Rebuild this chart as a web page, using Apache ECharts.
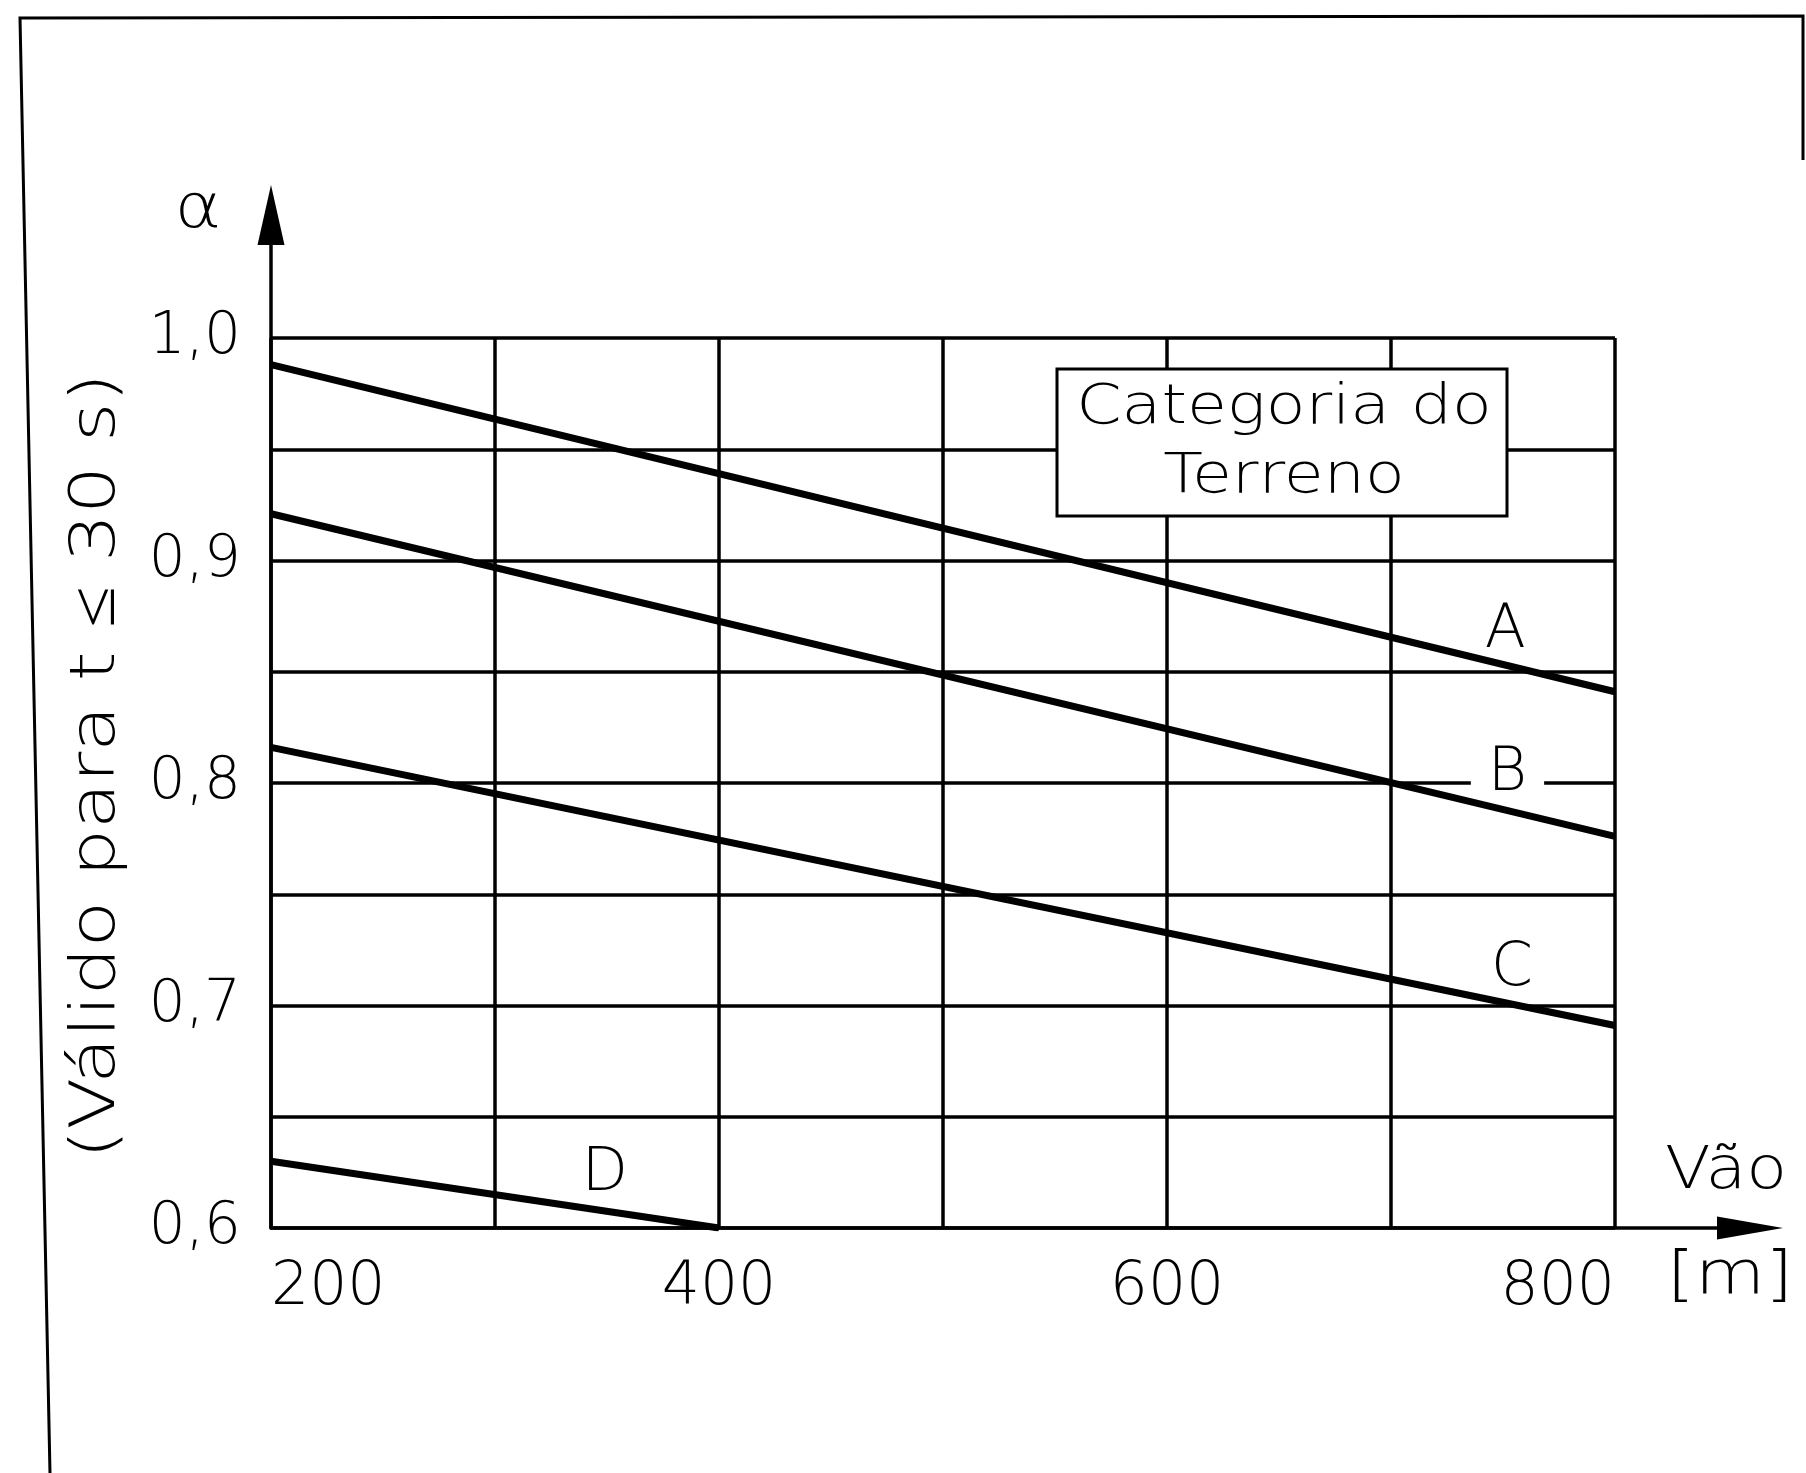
<!DOCTYPE html>
<html><head><meta charset="utf-8">
<script src="https://cdn.jsdelivr.net/npm/echarts@6/dist/echarts.min.js"></script>
<style>html,body{margin:0;padding:0;background:#fff}#c{width:1806px;height:1473px}</style>
</head><body><div id="c"></div>
<script>
// ---- data ----
const spanRange = [200, 800];
const alphaRange = [0.6, 1.0];
const xTickLabels = [200, 400, 600, 800];
const yTickLabels = ['0,6', '0,7', '0,8', '0,9', '1,0'];
const curveNames = ['A', 'B', 'C', 'D'];
const curveA = [[200, 0.988], [800, 0.841]];
const curveB = [[200, 0.921], [800, 0.776]];
const curveC = [[200, 0.816], [800, 0.691]];
const curveD = [[200, 0.630], [400, 0.600]];
const labelX = [751, 752, 754, 349];
const labelY = [0.868, 0.804, 0.716, 0.624];
const boxTitle = 'Categoria do\nTerreno';
const yName = '(Válido para t ≤ 30 s)';
const xName = 'Vão';
const xUnit = '[m]';
const yAxisSymbol = 'α';

const FONT = 'DejaVu Sans';
const FW = 200;
const chart = echarts.init(document.getElementById('c'), null, {renderer: 'canvas'});

const gridLine = {show: true, lineStyle: {color: '#000', width: 3.5, opacity: 1}};
const curves = [curveA, curveB, curveC, curveD];
const centered = {align: 'center', verticalAlign: 'middle', textAlign: 'center', textVerticalAlign: 'middle',
  fontFamily: FONT, fontWeight: FW, fill: '#000'};

const option = {
  backgroundColor: '#fff',
  animation: false,
  grid: [
    {left: 271, right: 191, top: 338, bottom: 245, outerBoundsMode: 'none'},
    {left: 271, right: 56, top: 215, bottom: 245, outerBoundsMode: 'none'}
  ],
  xAxis: [
    {
      type: 'value', gridIndex: 0, min: spanRange[0], max: spanRange[1], interval: 100,
      axisLine: {show: false}, axisTick: {show: false}, splitLine: gridLine,
      axisLabel: {
        formatter: v => xTickLabels.includes(v) ? String(v) : '',
        fontSize: 60, fontFamily: FONT, fontWeight: FW, color: '#000', margin: 30,
        alignMinLabel: 'left', alignMaxLabel: 'right', showMinLabel: true, showMaxLabel: true
      }
    },
    {
      type: 'value', gridIndex: 1, min: 0, max: 1,
      axisLine: {show: true, onZero: false, symbol: ['none', 'triangle'], symbolSize: [23, 66],
        lineStyle: {color: '#000', width: 3.5}},
      axisTick: {show: false}, axisLabel: {show: false}, splitLine: {show: false}
    }
  ],
  yAxis: [
    {
      type: 'value', gridIndex: 0, min: alphaRange[0], max: alphaRange[1], interval: 0.05,
      axisLine: {show: false}, axisTick: {show: false}, splitLine: gridLine,
      axisLabel: {
        formatter: v => {
          const k = Math.round(v * 100);
          return k % 10 === 0 ? yTickLabels[(k - 60) / 10] : '';
        },
        fontSize: 58, fontFamily: FONT, fontWeight: FW, color: '#000', margin: 30
      }
    },
    {
      type: 'value', gridIndex: 1, min: 0, max: 1,
      axisLine: {show: true, onZero: false, symbol: ['none', 'triangle'], symbolSize: [27, 60],
        lineStyle: {color: '#000', width: 3.5}},
      axisTick: {show: false}, axisLabel: {show: false}, splitLine: {show: false}
    }
  ],
  series: curves.map((d, i) => ({
    name: curveNames[i], type: 'line', xAxisIndex: 0, yAxisIndex: 0, data: d,
    showSymbol: false, symbol: 'none', silent: true, z: 3,
    lineStyle: {color: '#000', width: 7}
  })).concat([{
    type: 'scatter', xAxisIndex: 0, yAxisIndex: 0, symbolSize: 0, z: 1, silent: true,
    itemStyle: {opacity: 1, color: '#000'},
    data: curveNames.map((n, i) => {
      const item = {name: n, value: [labelX[i], labelY[i]]};
      if (n === 'B') item.label = {backgroundColor: '#fff', padding: [0, 17]};
      return item;
    }),
    label: {show: true, position: 'inside', formatter: '{b}', fontSize: 60, fontFamily: FONT, fontWeight: FW,
      color: '#000', opacity: 1}
  }]),
  graphic: [
    {type: 'polyline', z: 100, shape: {points: [[50, 1473], [20, 18], [1803, 16], [1803, 160]]},
      style: {stroke: '#000', lineWidth: 3, fill: null}},
    {type: 'rect', z: 50, shape: {x: 1057, y: 369, width: 450, height: 147},
      style: {fill: '#fff', stroke: '#000', lineWidth: 3}},
    {type: 'text', z: 51, x: 1284, y: 443, scaleX: 1.16,
      style: Object.assign({text: boxTitle, fontSize: 56, lineHeight: 69}, centered)},
    {type: 'text', z: 51, x: 198, y: 211, scaleX: 1.15,
      style: Object.assign({text: yAxisSymbol, fontSize: 62}, centered)},
    {type: 'text', z: 51, x: 1726, y: 1173, scaleX: 1.15,
      style: Object.assign({text: xName, fontSize: 58}, centered)},
    {type: 'text', z: 51, x: 1730, y: 1278, scaleX: 1.2,
      style: Object.assign({text: xUnit, fontSize: 60}, centered)},
    {type: 'text', z: 51, x: 98, y: 766, rotation: Math.PI / 2, scaleX: 1.2,
      style: Object.assign({text: yName, fontSize: 63}, centered)}
  ]
};
chart.setOption(option);
</script></body></html>
